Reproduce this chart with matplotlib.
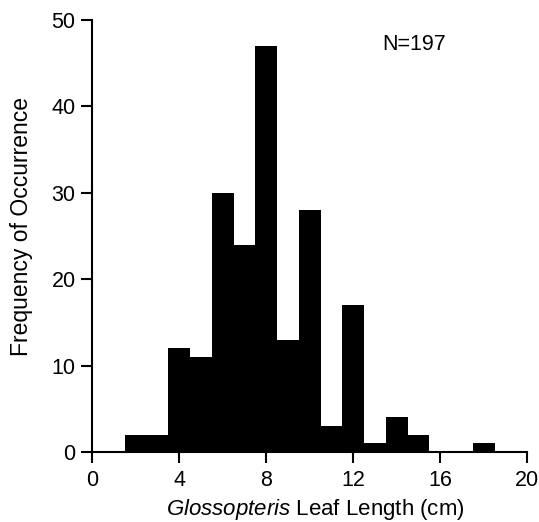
import matplotlib
matplotlib.use("Agg")
import matplotlib.pyplot as plt
import numpy as np

plt.rcParams['font.family'] = ['Liberation Sans', 'DejaVu Sans']
plt.rcParams['mathtext.fontset'] = 'custom'
plt.rcParams['mathtext.rm'] = 'Liberation Sans'
plt.rcParams['mathtext.it'] = 'Liberation Sans:italic'

bin_edges = [1.5, 2.5, 3.5, 4.5, 5.5, 6.5, 7.5, 8.5, 9.5, 10.5, 11.5, 12.5,
             13.5, 14.5, 15.5, 16.5, 17.5, 18.5]
counts = [2, 2, 12, 11, 30, 24, 47, 13, 28, 3, 17, 1, 4, 2, 0, 0, 1]
x_ticks = [0, 4, 8, 12, 16, 20]
y_ticks = [0, 10, 20, 30, 40, 50]
n_label = "N=197"

fig = plt.figure(figsize=(5.39, 5.22), dpi=100)
ax = fig.add_axes([0.171, 0.134, 0.807, 0.828])

ax.stairs(counts, bin_edges, fill=True, color='black', linewidth=0)

ax.set_xlim(0, 20)
ax.set_ylim(0, 50)
ax.set_xticks(x_ticks)
ax.set_yticks(y_ticks)
for s in ['top', 'right']:
    ax.spines[s].set_visible(False)
for s in ['left', 'bottom']:
    ax.spines[s].set_linewidth(1.5)
    ax.spines[s].set_zorder(3)
ax.tick_params(direction='out', length=8, width=1.5, labelsize=15.5)
ax.tick_params(axis='x', pad=5)
ax.tick_params(axis='y', pad=4)

ax.set_xlabel(r"$\mathit{Glossopteris}$ Leaf Length (cm)", fontsize=16)
ax.set_ylabel("Frequency of Occurrence", fontsize=16.5)
ax.xaxis.set_label_coords(0.512, -0.104)
ax.yaxis.set_label_coords(-0.136, 0.523)
ax.text(14.8, 47.1, n_label, fontsize=15.5, ha='center', va='center')

fig.savefig("out.png", dpi=100)
